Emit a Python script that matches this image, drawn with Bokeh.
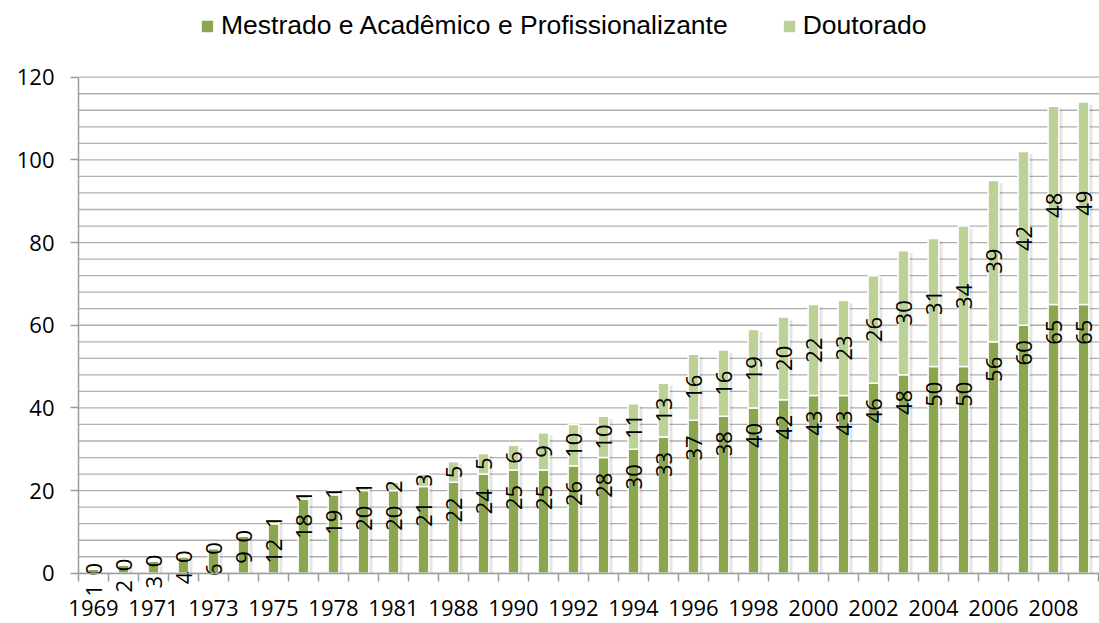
import math
from bokeh.plotting import figure
from bokeh.models import ColumnDataSource, FixedTicker, Legend, LegendItem, Range1d
from bokeh.core.properties import value
from bokeh.transform import dodge
from bokeh.embed import file_html
from bokeh.resources import INLINE

# ---- data ----
years = [1969, 1970, 1971, 1972, 1973, 1974, 1975, 1977, 1978, 1980, 1981, 1984,
         1988, 1989, 1990, 1991, 1992, 1993, 1994, 1995, 1996, 1997, 1998, 1999,
         2000, 2001, 2002, 2003, 2004, 2005, 2006, 2007, 2008, 2009]
mestrado = [1, 2, 3, 4, 6, 9, 12, 18, 19, 20, 20, 21, 22, 24, 25, 25, 26, 28, 30, 33,
            37, 38, 40, 42, 43, 43, 46, 48, 50, 50, 56, 60, 65, 65]
doutorado = [0, 0, 0, 0, 0, 0, 1, 1, 1, 1, 2, 3, 5, 5, 6, 9, 10, 10, 11, 13,
             16, 16, 19, 20, 22, 23, 26, 30, 31, 34, 39, 42, 48, 49]
series_names = ["Mestrado e Acadêmico e Profissionalizante", "Doutorado"]
y_ticks = [0, 20, 40, 60, 80, 100, 120]
y_minor_step = 4

C_MEST = "#8CA64F"
C_DOUT = "#BCD196"
GRID = "#B0B0B0"
AXIS = "#9C9C9C"

n = len(years)
xs = list(range(n))
src = ColumnDataSource(dict(
    x=xs,
    mest=mestrado,
    dout=doutorado,
    total=[m + d for m, d in zip(mestrado, doutorado)],
    mid=[m + d / 2 for m, d in zip(mestrado, doutorado)],
    mest_lbl=[str(v) for v in mestrado],
    dout_lbl=[str(v) for v in doutorado],
))

X0, X1 = -3.1, 33.533
x_left = -0.5  # left edge of the category axis

p = figure(width=1099, height=623,
           x_range=Range1d(X0, X1), y_range=Range1d(-12.14, 138.55),
           output_backend="svg", toolbar_location=None,
           min_border_left=0, min_border_right=0, min_border_top=0, min_border_bottom=0)
p.outline_line_color = None
p.background_fill_color = "white"
p.grid.visible = False

# horizontal gridlines (major + minor), starting at the y axis
grid_y = list(range(y_ticks[0], y_ticks[-1] + 1, y_minor_step))
p.segment(x0=x_left, x1=X1, y0=grid_y, y1=grid_y, line_color=GRID, line_width=1.3)

# y axis, fixed at the left edge of the categories
yt = FixedTicker(ticks=y_ticks, minor_ticks=[])
p.yaxis.ticker = yt
p.yaxis.fixed_location = x_left
p.yaxis.bounds = (y_ticks[0], y_ticks[-1])
p.yaxis.axis_line_color = AXIS
p.yaxis.axis_line_width = 1.5
p.yaxis.major_tick_line_color = AXIS
p.yaxis.major_tick_line_width = 1.5
p.yaxis.major_tick_out = 8
p.yaxis.major_tick_in = 0
p.yaxis.minor_tick_out = 0
p.yaxis.minor_tick_in = 0
p.yaxis.major_label_text_font = "Open Sans"
p.yaxis.major_label_text_font_size = "22px"
p.yaxis.major_label_text_color = "black"
p.yaxis.major_label_standoff = 16

# x axis at y = 0
xt = FixedTicker(ticks=list(range(0, n, 2)), minor_ticks=[i - 0.5 for i in range(n + 1)])
p.xaxis.ticker = xt
p.xaxis.fixed_location = 0
p.xaxis.bounds = (x_left, X1)
p.xaxis.major_label_overrides = {i: str(years[i]) for i in range(0, n, 2)}
p.xaxis.axis_line_color = AXIS
p.xaxis.axis_line_width = 1.5
p.xaxis.major_tick_out = 0
p.xaxis.major_tick_in = 0
p.xaxis.minor_tick_out = 8
p.xaxis.minor_tick_in = 0
p.xaxis.minor_tick_line_color = AXIS
p.xaxis.minor_tick_line_width = 1.5
p.xaxis.major_label_text_font = "Open Sans"
p.xaxis.major_label_text_font_size = "22px"
p.xaxis.major_label_text_color = "black"
p.xaxis.major_label_standoff = 19

# soft shadow
p.vbar(x=dodge('x', 0.12, range=p.x_range), top=dodge('total', -0.6, range=p.y_range), bottom=0,
       width=0.36, source=src, fill_color="black", fill_alpha=0.10, line_color=None)

# stacked bars
r_m = p.vbar(x='x', bottom=0, top='mest', width=0.36, source=src,
             fill_color=C_MEST, line_color="white", line_width=1.5)
r_d = p.vbar(x='x', bottom='mest', top='total', width=0.36, source=src,
             fill_color=C_DOUT, line_color="white", line_width=1.5)

# data labels
p.text(x='x', y='mest', text='mest_lbl', source=src, angle=math.pi / 2,
       text_align='right', text_baseline='middle', y_offset=15,
       text_font=value("Open Sans"), text_font_size='22px', text_color='black')
p.text(x='x', y='mid', text='dout_lbl', source=src, angle=math.pi / 2,
       text_align='center', text_baseline='middle',
       text_font=value("Open Sans"), text_font_size='22px', text_color='black')

legend = Legend(items=[LegendItem(label=series_names[0], renderers=[r_m]),
                       LegendItem(label=series_names[1], renderers=[r_d])],
                orientation="horizontal", location=(199, 582),
                glyph_width=16, glyph_height=16, label_standoff=6, spacing=53,
                padding=0, margin=0, border_line_color=None, background_fill_alpha=0,
                label_text_font="Liberation Sans", label_text_font_size="26.5px",
                label_text_color="black")
p.add_layout(legend)

open("out.html", "w").write(file_html(p, INLINE))
